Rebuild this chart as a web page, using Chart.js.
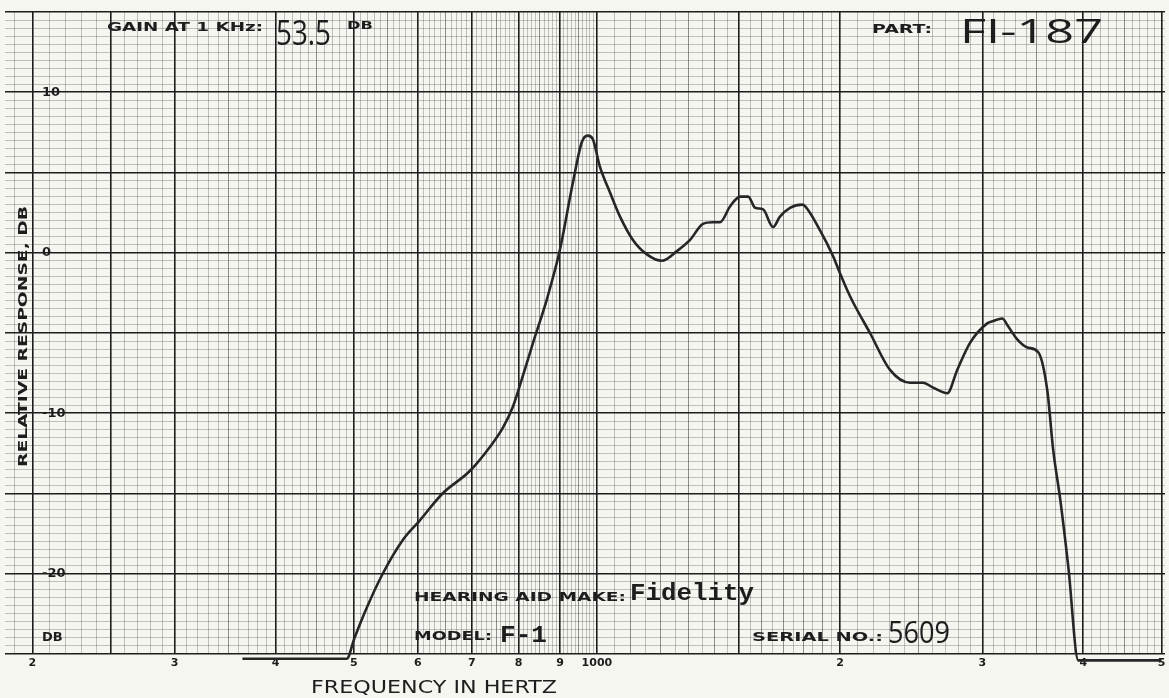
<!DOCTYPE html>
<html>
<head>
<meta charset="utf-8">
<title>Hearing aid response</title>
<script src="https://cdn.jsdelivr.net/npm/chart.js@4.4.1/dist/chart.umd.min.js"></script>
<style>
  html, body { margin: 0; padding: 0; background: #f6f6f1; }
  #wrap { width: 1169px; height: 698px; }
</style>
</head>
<body>
<div id="wrap"><canvas id="responseChart" width="1169" height="698"></canvas></div>
<script>
// response curve: frequency (Hz) and relative response (dB)
var freqs = [364, 490, 501, 519, 543, 575, 603, 644, 696, 737, 765, 787, 807, 836, 867, 900, 934, 958, 974, 988,
	1008, 1038, 1068, 1108, 1153, 1204, 1256, 1304, 1353, 1392, 1420, 1462, 1504, 1539, 1570, 1606, 1652, 1685,
	1734, 1795, 1810, 1889, 1960, 2000, 2040, 2076, 2178, 2306, 2442, 2534, 2607, 2715, 2793, 2898, 3042, 3095,
	3176, 3221, 3314, 3410, 3519, 3611, 3672, 3747, 3834, 3944, 5000];
var response = [-25.3, -25.3, -24.0, -22.1, -20.0, -17.9, -16.7, -15.0, -13.6, -12.1, -10.9, -9.6, -7.9, -5.4, -2.9, 0.2, 4.4, 6.9, 7.3, 7.1,
	5.4, 3.75, 2.25, 0.8, -0.1, -0.5, 0.1, 0.8, 1.8, 1.9, 1.9, 2.9, 3.5, 3.5, 2.8, 2.7, 1.6, 2.25,
	2.8, 3.0, 2.9, 1.4, -0.2, -1.3, -2.3, -3.1, -5.0, -7.3, -8.1, -8.1, -8.4, -8.75, -7.3, -5.6, -4.4, -4.25,
	-4.1, -4.5, -5.4, -5.9, -6.2, -8.6, -12.3, -15.4, -19.6, -25.4, -25.4];

// printed axis numbers
var xLabelFreqs = [200, 300, 400, 500, 600, 700, 800, 900, 1000, 2000, 3000, 4000, 5000];
var xLabels = ['2', '3', '4', '5', '6', '7', '8', '9', '1000', '2', '3', '4', '5'];
var yLabelValues = [10, 0, -10, -20, -24];
var yLabels = ['10', '0', '-10', '-20', 'DB'];

// log paper rulings
var xMajor = [200, 250, 300, 400, 500, 600, 700, 800, 900, 1000, 1500, 2000, 3000, 4000, 5000];
var xGrid = [];
function addSteps(from, to, step) {
	for (var f = from; f < to; f += step) xGrid.push(f);
}
addSteps(190, 1000, 10);
addSteps(1000, 2000, 50);
addSteps(2000, 5000, 100);
xGrid.push(5000);

var yGrid = [];
for (var i = 0; i <= 80; i++) yGrid.push(-25 + i * 0.5);

function xLevel(v) {
	if (xMajor.indexOf(v) >= 0) return 2;
	if ((v < 1000 && v % 50 == 0) || (v > 1000 && v < 2000 && v % 100 == 0) || (v > 2000 && v % 500 == 0)) return 1;
	return 0;
}

var ink = '#1d1d1d';
var faint = 'rgba(60,60,60,0.3)';

// left aligned text squeezed/stretched to a given width
function fitText(c, text, x, y, w, font) {
	c.save();
	c.font = font;
	c.textBaseline = 'middle';
	c.textAlign = 'left';
	var m = c.measureText(text).width;
	c.translate(x, y);
	c.scale(w / m, 1);
	c.fillText(text, 0, 0);
	c.restore();
}

var paperText = {
	id: 'paperText',
	beforeDraw: function(chart) {
		var c = chart.ctx;
		c.save();
		c.fillStyle = '#f6f6f1';
		c.fillRect(0, 0, chart.width, chart.height);
		c.restore();
	},
	afterDraw: function(chart) {
		var c = chart.ctx;
		var caps = 'bold 12px "DejaVu Sans"';
		c.save();
		c.fillStyle = ink;
		fitText(c, 'GAIN AT 1 KHz:', 107, 28, 156, caps);
		fitText(c, '53.5', 276, 35, 55, '34px "Open Sans"');
		fitText(c, 'DB', 347, 26, 26, 'bold 10px "DejaVu Sans"');
		fitText(c, 'PART:', 872, 30, 60, caps);
		fitText(c, 'FI-187', 960, 34, 143, '32px "Open Sans"');
		fitText(c, 'HEARING AID MAKE:', 414, 598, 212, caps);
		fitText(c, 'Fidelity', 630, 594, 124, 'bold 24px "Liberation Mono"');
		fitText(c, 'MODEL:', 414, 637, 78, caps);
		fitText(c, 'F-1', 500, 636, 47, 'bold 24px "Liberation Mono"');
		fitText(c, 'SERIAL NO.:', 752, 638, 131, caps);
		fitText(c, '5609', 888, 634, 62, '31px "Open Sans"');
		fitText(c, 'FREQUENCY IN HERTZ', 311, 688, 246, '500 18px "DejaVu Sans"');

		c.save();
		c.translate(24, 337);
		c.rotate(-Math.PI / 2);
		fitText(c, 'RELATIVE RESPONSE, DB', -130, 0, 261, caps);
		c.restore();
		c.restore();
	}
};

var ctx = document.getElementById('responseChart');
var responseChart = new Chart(ctx, {
	type: 'line',
	data: {
		datasets: [{
			data: freqs.map(function(f, i) { return {x: f, y: response[i]}; }),
			borderColor: '#262626',
			borderWidth: 2.6,
			pointRadius: 0,
			fill: false,
			cubicInterpolationMode: 'monotone',
			clip: false
		}]
	},
	options: {
		responsive: false,
		animation: false,
		layout: { padding: { top: 12, right: 4, left: 0, bottom: 0 } },
		plugins: { legend: { display: false }, tooltip: { enabled: false } },
		scales: {
			x: {
				type: 'logarithmic',
				min: 185,
				max: 5050,
				afterBuildTicks: function(scale) {
					scale.ticks = xGrid.map(function(v) { return {value: v}; });
				},
				afterFit: function(scale) {
					scale.height = 44;
					scale.paddingLeft = 0;
					scale.paddingRight = 0;
				},
				border: { display: false },
				grid: {
					drawTicks: false,
					color: function(c) {
						var l = xLevel(c.tick.value);
						return l == 2 ? ink : (l == 1 ? 'rgba(40,40,40,0.5)' : faint);
					},
					lineWidth: function(c) {
						var l = xLevel(c.tick.value);
						return l == 2 ? 1.6 : 1;
					}
				},
				ticks: {
					autoSkip: false,
					maxRotation: 0,
					padding: 3,
					color: ink,
					font: { family: 'DejaVu Sans', weight: 'bold', size: 11 },
					callback: function(v) {
						var k = xLabelFreqs.indexOf(v);
						return k < 0 ? '' : xLabels[k];
					}
				}
			},
			y: {
				min: -25,
				max: 15,
				afterBuildTicks: function(scale) {
					scale.ticks = yGrid.map(function(v) { return {value: v}; });
				},
				afterFit: function(scale) {
					scale.width = 5;
					scale.paddingTop = 0;
					scale.paddingBottom = 0;
				},
				border: { display: false },
				grid: {
					drawTicks: false,
					color: function(c) {
						return c.tick.value % 5 == 0 ? ink : faint;
					},
					lineWidth: function(c) {
						return c.tick.value % 5 == 0 ? 1.6 : 1;
					}
				},
				ticks: {
					autoSkip: false,
					mirror: true,
					padding: 37,
					color: ink,
					font: { family: 'DejaVu Sans', weight: 'bold', size: 13 },
					callback: function(v) {
						var k = yLabelValues.indexOf(v);
						return k < 0 ? '' : yLabels[k];
					}
				}
			}
		}
	},
	plugins: [paperText]
});
</script>
</body>
</html>
